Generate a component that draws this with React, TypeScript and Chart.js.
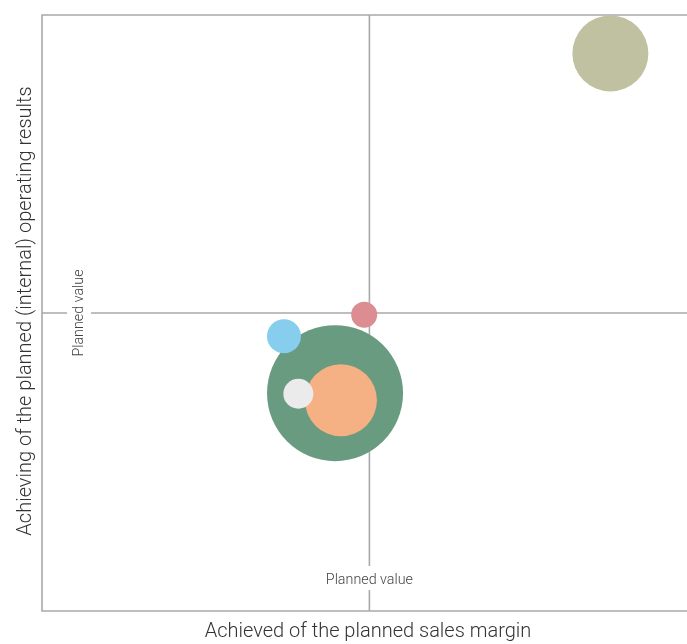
import { useEffect, useRef } from "react";
import { Chart, registerables } from "chart.js";

Chart.register(...registerables);

// Achievement against plan (planned value = 100 on both axes)
const xValues = [89.5, 91.3, 78.3, 73.9, 98.4, 173.6];
const yValues = [73.1, 70.7, 72.9, 92.2, 99.4, 187.1];
// Bubble radii in pixels
const sizes = [68, 36, 15, 17, 13, 38];
const colors = ["#699b80", "#f5b083", "#ebebeb", "#86cdee", "#db8d91", "#bfc1a0"];

const PLANNED_X = 100;
const PLANNED_Y = 100;
const X_MAX = 197;
const Y_MAX = 200;

const xTitle = "Achieved of the planned sales margin";
const yTitle = "Achieving of the planned (internal) operating results";
const plannedLabel = "Planned value";

const LINE_COLOR = "#a9a9a9";
const FONT = "Roboto, 'Noto Sans', sans-serif";

const quadrantPlugin = {
  id: "quadrants",
  beforeDatasetsDraw(chart: any) {
    const { ctx, chartArea: a, scales } = chart;
    const cx = scales.x.getPixelForValue(PLANNED_X);
    const cy = scales.y.getPixelForValue(PLANNED_Y);
    ctx.save();
    ctx.strokeStyle = LINE_COLOR;
    ctx.lineWidth = 1.6;
    ctx.beginPath();
    ctx.moveTo(a.right, a.top);
    ctx.lineTo(a.left, a.top);
    ctx.lineTo(a.left, a.bottom);
    ctx.lineTo(a.right, a.bottom);
    ctx.moveTo(cx, a.top);
    ctx.lineTo(cx, a.bottom);
    ctx.moveTo(a.left, cy);
    ctx.lineTo(a.right, cy);
    ctx.stroke();

    // "Planned value" labels sit in gaps of the planned-value lines
    ctx.fillStyle = "#ffffff";
    ctx.fillRect(cx - 4, a.bottom - 45, 8, 24);
    ctx.fillRect(a.left + 25, cy - 4, 24, 8);

    ctx.fillStyle = "#444444";
    ctx.font = `300 14.3px ${FONT}`;
    ctx.textAlign = "center";
    ctx.textBaseline = "alphabetic";
    ctx.fillText(plannedLabel, cx, a.bottom - 27);
    ctx.save();
    ctx.translate(a.left + 41, cy);
    ctx.rotate(-Math.PI / 2);
    ctx.fillText(plannedLabel, 0, 0);
    ctx.restore();

    // axis titles
    ctx.fillStyle = "#333333";
    ctx.font = `300 20px ${FONT}`;
    ctx.fillText(xTitle, 368, a.bottom + 26);
    ctx.save();
    ctx.translate(31, 311);
    ctx.rotate(-Math.PI / 2);
    ctx.fillText(yTitle, 0, 0);
    ctx.restore();
    ctx.restore();
  },
};

export default function App() {
  const canvasRef = useRef<HTMLCanvasElement | null>(null);

  useEffect(() => {
    if (!canvasRef.current) return;
    const chart = new Chart(canvasRef.current, {
      type: "bubble",
      data: {
        datasets: [
          {
            data: xValues.map((x, i) => ({ x, y: yValues[i], r: sizes[i] })),
            backgroundColor: colors,
            hoverBackgroundColor: colors,
            borderWidth: 0,
            hoverBorderWidth: 0,
            clip: false as any,
          },
        ],
      },
      options: {
        animation: false,
        responsive: false,
        maintainAspectRatio: false,
        events: [],
        layout: { autoPadding: false, padding: { left: 42, top: 15, right: 0, bottom: 33 } },
        plugins: {
          legend: { display: false },
          tooltip: { enabled: false },
        },
        scales: {
          x: { type: "linear", display: false, min: 0, max: X_MAX },
          y: { type: "linear", display: false, min: 0, max: Y_MAX },
        },
      },
      plugins: [quadrantPlugin],
    });
    return () => chart.destroy();
  }, []);

  return (
    <div style={{ position: "fixed", left: 0, top: 0, width: 687, height: 644, background: "#fff" }}>
      <canvas ref={canvasRef} width={687} height={644} style={{ display: "block", width: 687, height: 644 }} />
    </div>
  );
}
